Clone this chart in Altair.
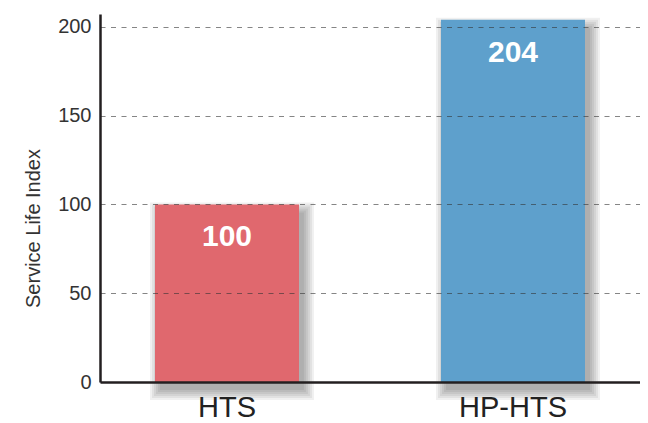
import altair as alt
import pandas as pd

categories = ["HTS", "HP-HTS"]
values = [100, 204]
colors = ["#E0686E", "#5EA0CC"]

df = pd.DataFrame({"cat": categories, "val": values, "color": colors})

PX_PER_UNIT = 368 / 207.3
BAR_W = 144

xenc = alt.X("cat:N", sort=categories,
             scale=alt.Scale(paddingInner=0.4965, paddingOuter=0.1923, align=0.5),
             axis=alt.Axis(title=None, labelAngle=0, labelFontSize=29, labelColor="#222222",
                           labelFont="Liberation Sans", labelBaseline="alphabetic",
                           labelPadding=34, ticks=False,
                           domainColor="#231F20", domainWidth=2.5, zindex=1))
yscale = alt.Scale(domain=[0, 207.3], nice=False)

layers = []
# soft drop shadow built from stacked translucent rects
for s in [0, 2, 4, 6, 8, 10]:
    sh = alt.Chart(df).transform_calculate(
        top=f"datum.val - {(8 - s) / PX_PER_UNIT}",
        bottom=f"{-(8 + s) / PX_PER_UNIT}",
    ).mark_bar(width=BAR_W + 2 * s, xOffset=5, color="#000000", opacity=0.06).encode(
        x=xenc,
        y=alt.Y("top:Q", scale=yscale),
        y2="bottom:Q",
    )
    layers.append(sh)

bars = alt.Chart(df).mark_bar(width=BAR_W).encode(
    x=xenc,
    y=alt.Y("val:Q", scale=yscale,
            axis=alt.Axis(title="Service Life Index", titleFontSize=20, titleFontWeight="normal",
                          titleColor="#333333", titleFont="Liberation Sans",
                          titleAngle=270, titleAlign="center", titleBaseline="alphabetic",
                          titleX=-61, titleY=214,
                          values=[0, 50, 100, 150, 200], labelFontSize=20, labelColor="#333333",
                          labelFont="Liberation Sans", labelPadding=9, ticks=False,
                          domainColor="#231F20", domainWidth=2.5,
                          grid=True, gridColor="#333333", gridOpacity=0.6, gridDash=[5, 5.5],
                          gridWidth=1.2, zindex=1)),
    color=alt.Color("color:N", scale=None),
)
layers.append(bars)

labels = alt.Chart(df).mark_text(
    dy=42, baseline="alphabetic", align="center", fontSize=30, fontWeight="bold",
    font="Liberation Sans", color="white",
).encode(
    x=xenc,
    y=alt.Y("val:Q", scale=yscale),
    text=alt.Text("val:Q"),
)
layers.append(labels)

chart = alt.layer(*layers).properties(
    width=540, height=368,
    autosize=alt.AutoSizeParams(type="none"),
    padding={"left": 92, "top": 6, "right": 0, "bottom": 48},
    background="white",
).configure_view(stroke=None)

chart.save("out.html", embed_options={"renderer": "svg", "actions": False})
